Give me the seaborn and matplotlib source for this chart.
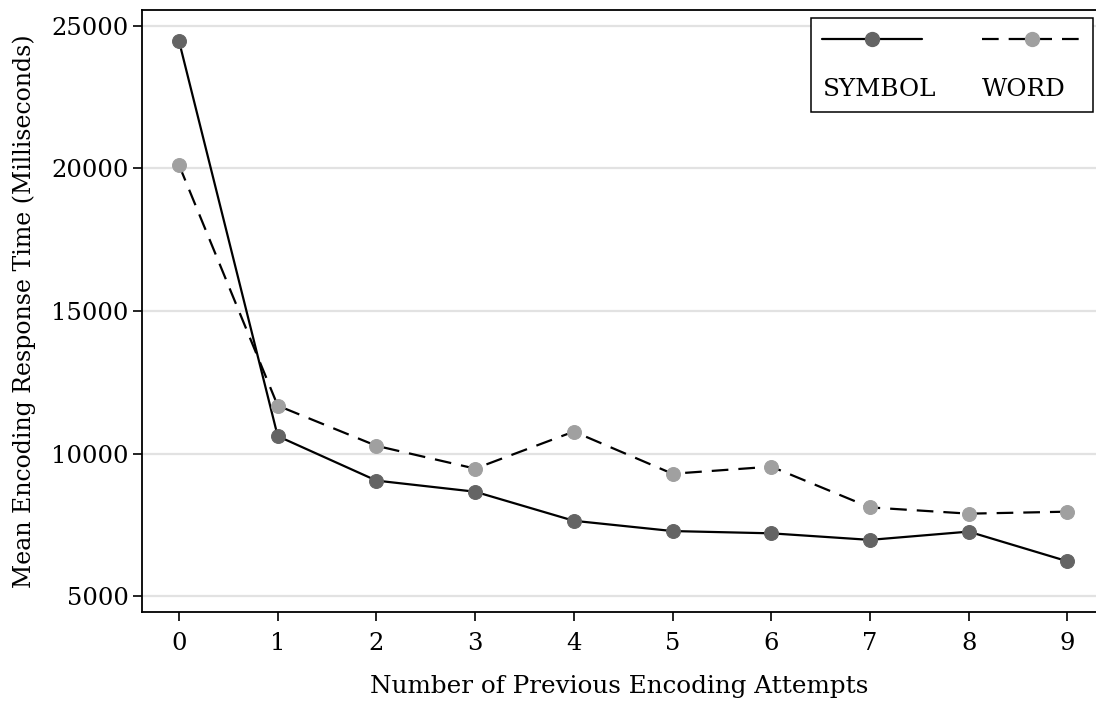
import matplotlib
matplotlib.use("Agg")
import matplotlib.pyplot as plt
import pandas as pd
import seaborn as sns
from matplotlib.lines import Line2D
from matplotlib.offsetbox import AnchoredOffsetbox, DrawingArea, TextArea, VPacker, HPacker

# values
attempts = [0, 1, 2, 3, 4, 5, 6, 7, 8, 9]
symbol_ms = [24470, 10610, 9050, 8660, 7640, 7280, 7200, 6970, 7260, 6220]
word_ms = [20120, 11680, 10270, 9470, 10770, 9290, 9540, 8110, 7890, 7960]
series_names = ["SYMBOL", "WORD"]
y_ticks = [5000, 10000, 15000, 20000, 25000]

marker_colors = {"SYMBOL": "#646464", "WORD": "#a0a0a0"}
line_styles = {"SYMBOL": "-", "WORD": (0, (7.5, 4.5))}

df = pd.DataFrame({
    "attempts": attempts * 2,
    "ms": symbol_ms + word_ms,
    "series": ["SYMBOL"] * len(attempts) + ["WORD"] * len(attempts),
})

sns.set_theme(style="white")
plt.rcParams["font.family"] = ["DejaVu Serif"]
plt.rcParams["font.size"] = 17
plt.rcParams["text.color"] = "black"
plt.rcParams["axes.labelcolor"] = "black"

fig = plt.figure(figsize=(10.96, 7.04), dpi=100)
ax = fig.add_axes([142 / 1096, 1 - 612 / 704, 954 / 1096, 602 / 704])

# light horizontal grid under the lines
for yv in y_ticks:
    ax.axhline(yv, color="#e2e2e2", lw=1.6, zorder=0)

for name in series_names:
    sub = df[df["series"] == name]
    sns.lineplot(data=sub, x="attempts", y="ms", ax=ax, color="black",
                 linestyle=line_styles[name], lw=1.6, marker="o", markersize=10,
                 markerfacecolor=marker_colors[name], markeredgecolor=marker_colors[name],
                 legend=False, zorder=3)

ax.set_xlim(-0.375, 9.29)
ax.set_ylim(4440, 25560)
ax.set_xticks(attempts)
ax.set_yticks(y_ticks)
ax.set_yticklabels([str(v) for v in y_ticks])
ax.tick_params(axis="both", direction="out", length=6.5, width=1.2, color="black",
               labelsize=17.5, labelcolor="black", bottom=True, left=True)
ax.tick_params(axis="x", pad=8)
ax.tick_params(axis="y", pad=3)
ax.set_xlabel("Number of Previous Encoding Attempts", fontsize=17.7, labelpad=14)
ax.set_ylabel("Mean Encoding Response Time (Milliseconds)", fontsize=17, labelpad=11)

for side in ["left", "bottom", "top"]:
    ax.spines[side].set_color("black")
    ax.spines[side].set_linewidth(1.3)
ax.spines["right"].set_visible(False)

# Stata-style legend: key on top, label underneath
columns = []
for name in series_names:
    da = DrawingArea(72, 14, 0, 0)
    da.add_artist(Line2D([0, 72], [7, 7], color="black", lw=1.6,
                         linestyle=line_styles[name]))
    da.add_artist(Line2D([36], [7], marker="o", markersize=10, lw=0,
                         markerfacecolor=marker_colors[name],
                         markeredgecolor=marker_colors[name]))
    txt = TextArea(name, textprops=dict(fontsize=17.7, color="black"))
    columns.append(VPacker(children=[da, txt], align="left", pad=0, sep=21))
box = HPacker(children=columns, align="top", pad=0, sep=33)
leg = AnchoredOffsetbox(loc="upper right", child=box, pad=0.48, borderpad=0,
                        frameon=True, bbox_to_anchor=(0.9969, 0.9867),
                        bbox_transform=ax.transAxes, prop=dict(size=17))
leg.patch.set_edgecolor("black")
leg.patch.set_linewidth(1.1)
leg.patch.set_boxstyle("square", pad=0)
ax.add_artist(leg)

fig.savefig("out.png", dpi=100)
